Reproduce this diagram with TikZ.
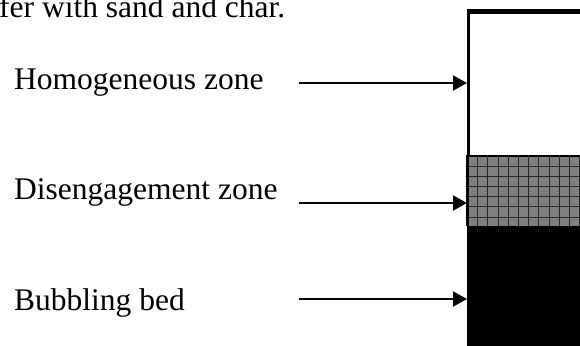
\documentclass[tikz,border=0pt]{standalone}
\usepackage{fontspec}
\setmainfont{Liberation Serif}
\usetikzlibrary{arrows.meta}
\definecolor{zonegray}{HTML}{7F7F7F}
\definecolor{gridgray}{HTML}{262626}
\begin{document}
\begin{tikzpicture}[x=1pt,y=-1pt,
  lbl/.style={anchor=base west,inner sep=0pt,font=\fontsize{31.5}{36}\selectfont},
  zone/.style={anchor=north west,inner sep=0pt,minimum width=140pt,draw=black,line width=3pt},
  pointer/.style={line width=2pt,-{Triangle[length=14pt,width=15pt]}},
  ]
\useasboundingbox (0,0) rectangle (580,345);
\clip (0,0) rectangle (580,345);
% zones
\node[zone,fill=white,minimum height=144pt] (hz) at (467,11) {};
\node[zone,draw=none,fill=zonegray,minimum height=71pt] (dz) at (465.5,155) {};
\begin{scope}
\clip (465.5,155) rectangle (600,226);
\foreach \i in {0,...,12} {\draw[gridgray,line width=0.7pt] (477.5+10.2*\i,150) -- (477.5+10.2*\i,230);}
\foreach \j in {0,...,6} {\draw[gridgray,line width=0.7pt] (460,166+10.2*\j) -- (600,166+10.2*\j);}
\end{scope}
\draw[line width=3pt] (467,155) -- (467,226);
\node[zone,fill=black,minimum height=130pt] (bz) at (467,226) {};
\draw[line width=3pt] (467,11) -- (600,11);
% text
\node[lbl] (top) at (-1,18) {fer with sand and char.};
\node[lbl] (t1) at (14,89) {Homogeneous zone};
\node[lbl] (t2) at (14,199) {Disengagement zone};
\node[lbl] (t3) at (14,310) {Bubbling bed};
% arrows
\coordinate (a1) at (299,83);
\coordinate (a2) at (299,203);
\coordinate (a3) at (299,299);
\draw[pointer] (a1) -- (a1 -| hz.west);
\draw[pointer] (a2) -- (a2 -| hz.west);
\draw[pointer] (a3) -- (a3 -| hz.west);
\end{tikzpicture}
\end{document}
